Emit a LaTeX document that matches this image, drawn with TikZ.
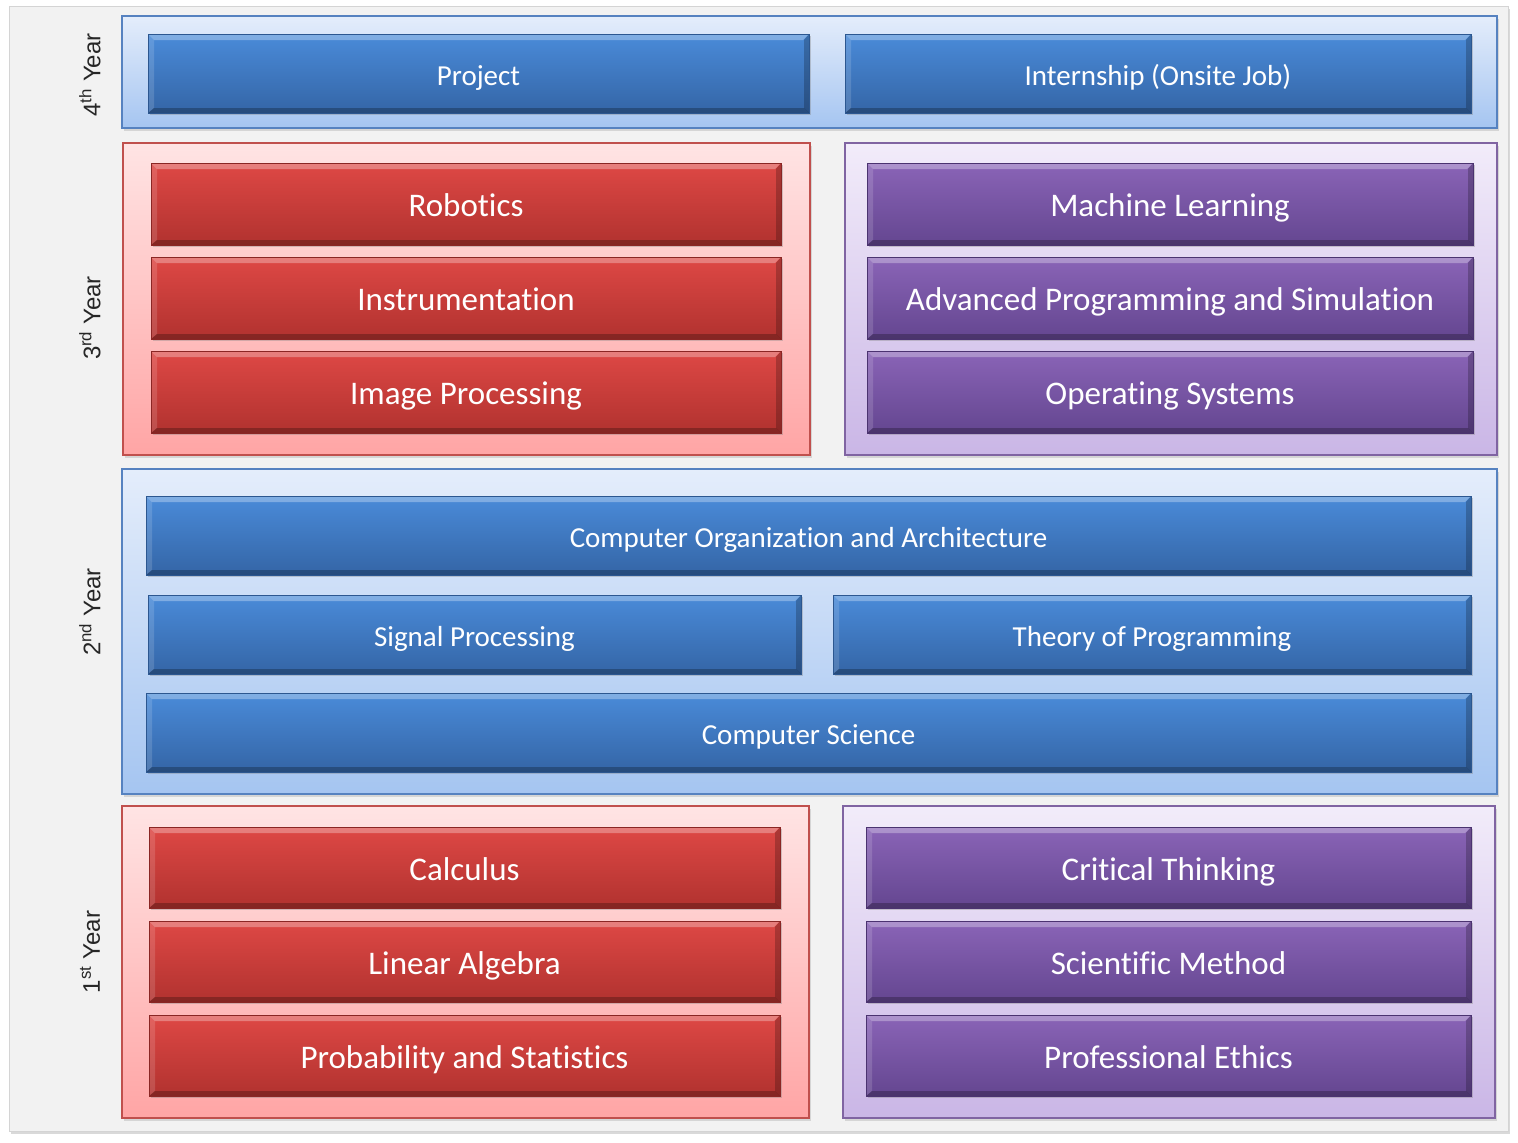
\documentclass[tikz,border=0pt]{standalone}
\usepackage{fontspec}
\setmainfont{Carlito}[Ligatures={NoCommon}]
\newfontfamily\labelfont{Liberation Sans}
\usetikzlibrary{shadows}

\definecolor{bgfill}{HTML}{F2F2F2}
\definecolor{bgline}{HTML}{D4D4D4}
% course tiles
\definecolor{bluetop}{HTML}{4A8BD9}
\definecolor{bluebot}{HTML}{3465A6}
\definecolor{blueline}{HTML}{2C5790}
\definecolor{redtop}{HTML}{DE4845}
\definecolor{redbot}{HTML}{B1322F}
\definecolor{redline}{HTML}{8A2624}
\definecolor{purtop}{HTML}{8A64B7}
\definecolor{purbot}{HTML}{644690}
\definecolor{purline}{HTML}{4B3370}
% year panels
\definecolor{bpantop}{HTML}{E4EDFB}
\definecolor{bpanbot}{HTML}{A5C5F1}
\definecolor{bpanline}{HTML}{5682C0}
\definecolor{rpantop}{HTML}{FFE4E4}
\definecolor{rpanbot}{HTML}{FFA5A5}
\definecolor{rpanline}{HTML}{C0504D}
\definecolor{ppantop}{HTML}{F2ECFA}
\definecolor{ppanbot}{HTML}{CAB6E6}
\definecolor{ppanline}{HTML}{8064A2}

\tikzset{
  bevel/.style={path picture={
    \fill[white,opacity=0.30]
      (path picture bounding box.north west) -- (path picture bounding box.north east)
      -- ([shift={(-6pt,-6pt)}]path picture bounding box.north east)
      -- ([shift={(6pt,-6pt)}]path picture bounding box.north west) -- cycle;
    \fill[white,opacity=0.14]
      (path picture bounding box.north west)
      -- ([shift={(6pt,-6pt)}]path picture bounding box.north west)
      -- ([shift={(6pt,5pt)}]path picture bounding box.south west)
      -- (path picture bounding box.south west) -- cycle;
    \fill[black,opacity=0.22]
      (path picture bounding box.north east) -- (path picture bounding box.south east)
      -- ([shift={(-5pt,5pt)}]path picture bounding box.south east)
      -- ([shift={(-5pt,-6pt)}]path picture bounding box.north east) -- cycle;
    \fill[black,opacity=0.25]
      (path picture bounding box.south west) -- (path picture bounding box.south east)
      -- ([shift={(-5pt,5pt)}]path picture bounding box.south east)
      -- ([shift={(6pt,5pt)}]path picture bounding box.south west) -- cycle;
  }},
  tile/.style={rectangle, inner sep=0pt, line width=0.8pt, text=white, bevel,
    text depth=0pt,
    drop shadow={opacity=0.35, shadow xshift=1.5pt, shadow yshift=-2pt}},
  bluetile/.style={tile, draw=blueline, top color=bluetop, bottom color=bluebot,
    font=\fontsize{29}{33}\selectfont, text height=24pt},
  redtile/.style={tile, draw=redline, top color=redtop, bottom color=redbot,
    font=\fontsize{33}{37}\selectfont, text height=25pt},
  purtile/.style={tile, draw=purline, top color=purtop, bottom color=purbot,
    font=\fontsize{33}{37}\selectfont, text height=25pt},
  panel/.style={rectangle, inner sep=0pt, line width=1.4pt,
    drop shadow={opacity=0.25, shadow xshift=2pt, shadow yshift=-2.5pt}},
  bluepanel/.style={panel, draw=bpanline, top color=bpantop, bottom color=bpanbot},
  redpanel/.style={panel, draw=rpanline, top color=rpantop, bottom color=rpanbot},
  purpanel/.style={panel, draw=ppanline, top color=ppantop, bottom color=ppanbot},
  yearlabel/.style={rotate=90, font=\labelfont\fontsize{24}{27}\selectfont, text=black!85},
}

% box from its two corners: name, style, x1, y1, x2, y2, text
\newcommand\cbox[7]{%
  \node[#2, minimum width={#5-#3}, minimum height={#6-#4}] (#1)
    at ({(#3+#5)/2},{(#4+#6)/2}) {#7};}

\begin{document}
\begin{tikzpicture}[x=1pt,y=-1pt]
  \useasboundingbox (0,0) rectangle (1518,1143);

  % backdrop
  \cbox{back}{rectangle, fill=bgfill, draw=bgline, line width=1pt,
    drop shadow={opacity=0.3, shadow xshift=2pt, shadow yshift=-3pt}}{9}{6}{1508}{1131}{}

  % year panels
  \cbox{y4}{bluepanel}{122}{16}{1497}{128}{}
  \cbox{y3a}{redpanel}{123}{143}{810}{455}{}
  \cbox{y3b}{purpanel}{845}{143}{1497}{455}{}
  \cbox{y2}{bluepanel}{122}{469}{1497}{794}{}
  \cbox{y1a}{redpanel}{122}{806}{809}{1118}{}
  \cbox{y1b}{purpanel}{843}{806}{1495}{1118}{}

  % year labels
  \node[yearlabel] (l4) at (90,75)  {4\textsuperscript{th} Year};
  \node[yearlabel] (l3) at (90,318) {3\textsuperscript{rd} Year};
  \node[yearlabel] (l2) at (90,612) {2\textsuperscript{nd} Year};
  \node[yearlabel] (l1) at (90,952) {1\textsuperscript{st} Year};

  % 4th year
  \cbox{proj}{bluetile}{148}{34}{809}{113}{Project}
  \cbox{intern}{bluetile}{845}{34}{1471}{113}{Internship (Onsite Job)}

  % 3rd year
  \cbox{robot}{redtile}{151}{163}{781}{245}{Robotics}
  \cbox{instr}{redtile}{151}{257}{781}{339}{Instrumentation}
  \cbox{image}{redtile}{151}{351}{781}{433}{Image Processing}
  \cbox{ml}{purtile}{867}{163}{1473}{245}{Machine Learning}
  \cbox{aps}{purtile}{867}{257}{1473}{339}{Advanced Programming and Simulation}
  \cbox{os}{purtile}{867}{351}{1473}{433}{Operating Systems}

  % 2nd year
  \cbox{coa}{bluetile}{146}{496}{1471}{575}{Computer Organization and Architecture}
  \cbox{sig}{bluetile}{148}{595}{801}{674}{Signal Processing}
  \cbox{theory}{bluetile}{833}{595}{1471}{674}{Theory of Programming}
  \cbox{cs}{bluetile}{146}{693}{1471}{772}{Computer Science}

  % 1st year
  \cbox{calc}{redtile}{149}{827}{780}{908}{Calculus}
  \cbox{linalg}{redtile}{149}{921}{780}{1002}{Linear Algebra}
  \cbox{prob}{redtile}{149}{1015}{780}{1096}{Probability and Statistics}
  \cbox{crit}{purtile}{866}{827}{1471}{908}{Critical Thinking}
  \cbox{sci}{purtile}{866}{921}{1471}{1002}{Scientific Method}
  \cbox{ethics}{purtile}{866}{1015}{1471}{1096}{Professional Ethics}
\end{tikzpicture}
\end{document}
